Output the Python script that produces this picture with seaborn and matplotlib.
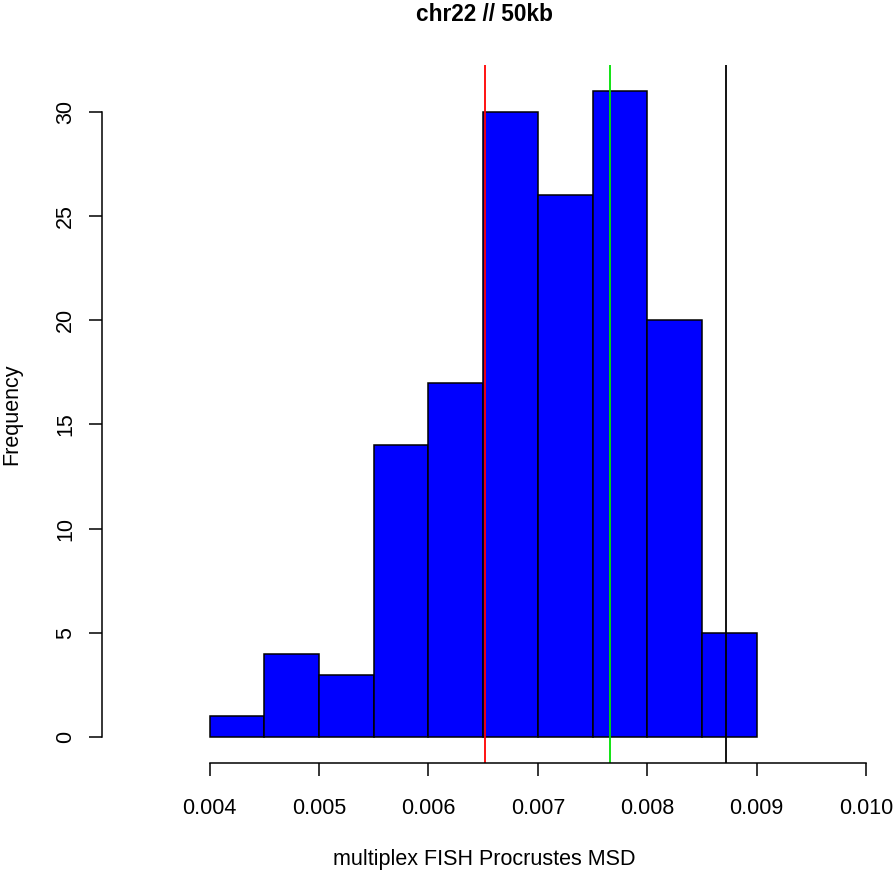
import numpy as np
import seaborn as sns
import matplotlib.pyplot as plt

# histogram bins and counts
bin_edges = [0.004, 0.0045, 0.005, 0.0055, 0.006, 0.0065, 0.007, 0.0075, 0.008, 0.0085, 0.009]
counts = [1, 4, 3, 14, 17, 30, 26, 31, 20, 5]

# reference lines
line_values = [0.006516, 0.007662, 0.008722]
line_colors = ['#FF0000', '#00E000', '#000000']

x_ticks = [0.004, 0.005, 0.006, 0.007, 0.008, 0.009, 0.010]
x_labels = ['0.004', '0.005', '0.006', '0.007', '0.008', '0.009', '0.010']
y_ticks = [0, 5, 10, 15, 20, 25, 30]

sns.set_style("white")
plt.rcParams['font.family'] = ['Liberation Sans', 'DejaVu Sans']
plt.rcParams['text.color'] = 'black'
plt.rcParams['axes.labelcolor'] = 'black'
plt.rcParams['xtick.color'] = 'black'
plt.rcParams['ytick.color'] = 'black'

fig = plt.figure(figsize=(8.94, 8.71), dpi=100)
ax = fig.add_axes([102 / 894, 108 / 871, 764 / 894, 698 / 871])

mids = [(a + b) / 2 for a, b in zip(bin_edges[:-1], bin_edges[1:])]
sns.histplot(x=mids, weights=counts, bins=bin_edges, color='#0000FF', alpha=1,
             edgecolor='black', linewidth=1.1, ax=ax)

for v, c in zip(line_values, line_colors):
    ax.axvline(v, color=c, linewidth=1.3)

ax.set_xlim(0.003016, 0.010)
ax.set_ylim(-1.24, 32.24)

for s in ['top', 'right']:
    ax.spines[s].set_visible(False)
ax.spines['left'].set_bounds(0, 30)
ax.spines['bottom'].set_bounds(0.004, 0.010)
for s in ['left', 'bottom']:
    ax.spines[s].set_linewidth(1.1)
    ax.spines[s].set_color('black')

ax.set_xticks(x_ticks)
ax.set_xticklabels(x_labels, fontsize=15.5)
ax.set_yticks(y_ticks)
ax.set_yticklabels([str(t) for t in y_ticks], fontsize=15.5, rotation=90, va='center')
ax.tick_params(axis='both', direction='out', length=9.5, width=1.1, color='black',
               left=True, bottom=True)
ax.tick_params(axis='x', pad=15.5)
ax.tick_params(axis='y', pad=9)

ax.set_xlabel("multiplex FISH Procrustes MSD", fontsize=15.5, labelpad=22)
ax.set_ylabel("Frequency", fontsize=15.5, labelpad=24)
ax.set_title("chr22 // 50kb", fontsize=16.3, fontweight='bold', pad=32)
ax.grid(False)

fig.savefig("out.png", dpi=100)
